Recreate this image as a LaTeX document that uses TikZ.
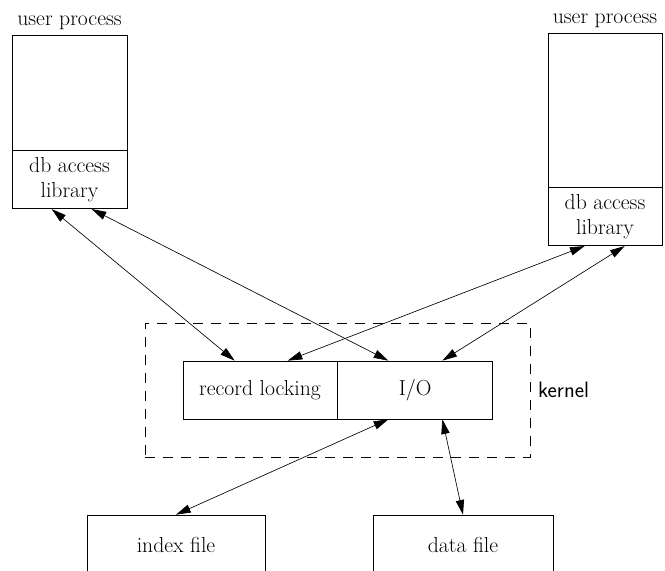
\documentclass[tikz,border=0pt]{standalone}
\usetikzlibrary{positioning, calc, arrows.meta}
\tikzset{
  > = {Triangle[length = 4.4mm, width = 2.5mm]},
  every node/.style = {font = \fontsize{18.5}{21}\selectfont},
  box/.style = {draw, line width = 0.6pt, inner sep = 0pt, align = center,
    minimum width = 3.45cm},
  access/.style = {<->, line width = 0.55pt},
  kernelbox/.style = {draw, dashed, line width = 0.6pt,
    dash pattern = on 3mm off 2.4mm, inner sep = 0pt},
}

\begin{document}
\begin{tikzpicture}[x = 0.03cm, y = -0.03cm]
\useasboundingbox (0,0) rectangle (665,571);
\clip (0,0) rectangle (665,571);

% user processes
\node [box, minimum height = 3.45cm] (leftup) at (69.5,92.5) {};
\node [box, minimum height = 1.74cm, below = 0pt of leftup] (leftlib) {db access\\library};
\node [above = 1pt of leftup] (leftlabel) {user process};

\node [box, minimum width = 3.42cm, minimum height = 4.62cm] (rightup) at (605,110) {};
\node [box, minimum width = 3.42cm, minimum height = 1.74cm, below = 0pt of rightup] (rightlib) {db access\\library};
\node [above = 1pt of rightup] (rightlabel) {user process};

% kernel
\node [kernelbox, minimum width = 11.55cm, minimum height = 4.02cm] (kernel) at (337.5,390) {};
\node [box, minimum width = 4.62cm, minimum height = 1.74cm] (reclock) at (260,390) {record locking};
\node [box, minimum width = 4.65cm, minimum height = 1.74cm, right = 0pt of reclock] (io) {I/O};
\node [right = 3pt of kernel, font = \fontsize{19}{22}\sffamily] (kernellabel) {kernel};

% files
\node [box, minimum width = 5.34cm, minimum height = 1.8cm] (indexf) at (176,545) {index file};
\node [box, minimum width = 5.4cm, minimum height = 1.8cm] (dataf) at (463,545) {data file};

\draw [access] ([xshift = 1.2cm]leftlib.south west) -- ([xshift = 1.56cm]reclock.north west);
\draw [access] ([xshift = 2.4cm]leftlib.south west) -- ([xshift = 1.53cm]io.north west);
\draw [access] ([xshift = 1.11cm]rightlib.south west) -- ([xshift = 3.15cm]reclock.north west);
\draw [access] ([xshift = 2.31cm]rightlib.south west) -- ([xshift = 3.15cm]io.north west);
\draw [access] ([xshift = 1.53cm]io.south west) -- (indexf.north);
\draw [access] ([xshift = 3.15cm]io.south west) -- (dataf.north);

\end{tikzpicture}
\end{document}
